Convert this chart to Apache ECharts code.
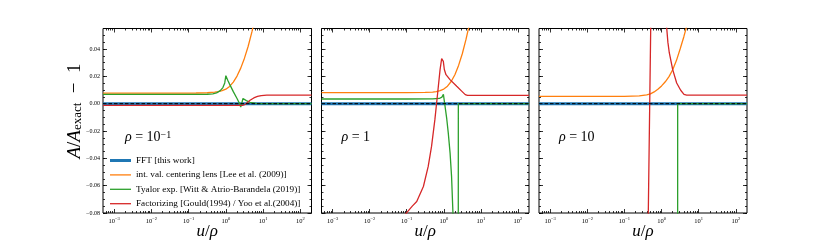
<!DOCTYPE html>
<html><head><meta charset="utf-8">
<script src="https://cdn.jsdelivr.net/npm/echarts@6/dist/echarts.min.js"></script>
<style>html,body{margin:0;padding:0;background:#fff}#c{width:830px;height:244px}</style>
</head><body><div id="c"></div>
<script>
// ---- axis ranges / ticks ----
const X_MIN = 5e-4, X_MAX = 200;          // u/rho range (log axis, drawn in log10 units)
const Y_MIN = -0.08, Y_MAX = 0.055;
const xTickExponents = [-3, -2, -1, 0, 1, 2];
const yMajorTicks = [-0.08, -0.06, -0.04, -0.02, 0, 0.02, 0.04];
const yTickLabels = ['−0.08', '−0.06', '−0.04', '−0.02', '0.00', '0.02', '0.04'];
const panelRho = [['10', '−1'], ['1', ''], ['10', '']];
const seriesNames = [
  'FFT [this work]',
  'int. val. centering lens [Lee et al. (2009)]',
  'Tyalor exp. [Witt & Atrio-Barandela (2019)]',
  'Factorizing [Gould(1994) / Yoo et al.(2004)]'
];
const colors = ['#1f77b4', '#ff7f0e', '#2ca02c', '#d62728'];

// ---- data: [log10(u/rho), A/A_exact - 1] ----
const fft = [[-3.301, 0], [2.301, 0]];
const zeroRef = [[-3.301, 0], [2.301, 0]];

const p1Orange = [[-3.301,0.0077],[-1.5,0.0077],[-0.8,0.0078],[-0.5,0.008],[-0.3,0.0084],[-0.2,0.0088],[-0.1,0.0095],[0,0.0106],[0.1,0.0126],[0.2,0.0158],[0.3,0.0202],[0.4,0.026],[0.5,0.0333],[0.6,0.042],[0.7,0.0525],[0.8,0.065],[0.9,0.08]];
const p1Green = [[-3.301,0.0068],[-1,0.0068],[-0.5,0.0069],[-0.35,0.0072],[-0.25,0.0079],[-0.15,0.0095],[-0.08,0.0118],[-0.03,0.0152],[0,0.0205],[0.05,0.0172],[0.1,0.0143],[0.2,0.0088],[0.3,0.0038],[0.36,0.0005],[0.40,-0.0025],[0.46,0.0038],[0.55,0.0022],[0.65,0.001],[0.8,0.0002],[1.0,0],[2.301,0]];
const p1Red = [[-3.301,-0.0013],[0,-0.0013],[0.45,-0.0013],[0.52,-0.0006],[0.58,0.0008],[0.65,0.0025],[0.75,0.0042],[0.85,0.0053],[0.95,0.0059],[1.1,0.0062],[1.3,0.0063],[2.301,0.0063]];

const p2Orange = [[-3.301,0.0081],[-1,0.0081],[-0.5,0.0082],[-0.3,0.0084],[-0.2,0.0088],[-0.1,0.0095],[0,0.0107],[0.1,0.0128],[0.2,0.0162],[0.3,0.0212],[0.4,0.028],[0.5,0.0365],[0.6,0.047],[0.7,0.059],[0.8,0.073]];
const p2Green = [[-3.301,0.0034],[-1,0.0034],[-0.3,0.0035],[-0.12,0.0038],[-0.05,0.0048],[-0.01,0.0068],[0.01,0.0062],[0.035,-0.002],[0.08,-0.011],[0.12,-0.021],[0.17,-0.036],[0.21,-0.053],[0.245,-0.078],[0.3,-0.12],[0.39,-0.2],[0.393,0],[2.301,0]];
const p2Red = [[-3.301,-0.3],[-1.5,-0.1],[-1.2,-0.087],[-1.0,-0.0797],[-0.85,-0.075],[-0.73,-0.0716],[-0.55,-0.0606],[-0.42,-0.0459],[-0.33,-0.0313],[-0.24,-0.0117],[-0.165,0.0078],[-0.1,0.0249],[-0.057,0.033],[-0.03,0.0325],[-0.012,0.031],[0.015,0.025],[0.06,0.0212],[0.168,0.0176],[0.35,0.0127],[0.49,0.009],[0.58,0.0066],[0.64,0.006],[0.8,0.006],[2.301,0.006]];

const p3Orange = [[-3.301,0.0054],[-1,0.0054],[-0.6,0.0057],[-0.4,0.0065],[-0.3,0.0072],[-0.2,0.0086],[-0.1,0.0105],[0,0.013],[0.1,0.016],[0.2,0.0198],[0.3,0.0248],[0.4,0.0315],[0.5,0.04],[0.6,0.049],[0.7,0.059],[0.8,0.071]];
const p3Green = [[-3.301,-0.5],[0.43,-0.5],[0.434,0],[2.301,0]];
const p3Red = [[-3.301,-0.6],[-0.36,-0.085],[-0.29,0.06],[-0.1,0.6],[0.12,0.06],[0.138,0.0555],[0.17,0.045],[0.209,0.0371],[0.3,0.0249],[0.407,0.0151],[0.515,0.0098],[0.604,0.0068],[0.677,0.0063],[2.301,0.0063]];

const panels = [
  [fft, p1Orange, p1Green, p1Red],
  [fft, p2Orange, p2Green, p2Red],
  [fft, p3Orange, p3Green, p3Red]
];

// ---- layout ----
const FONT = "'Liberation Serif','Times New Roman',serif";
const gridBoxes = [
  {left: 103, width: 208.5},
  {left: 321.5, width: 207.5},
  {left: 539, width: 208}
];
const TOP = 28.5, HEIGHT = 184.5;
const lineWidths = [3, 1.3, 1.3, 1.3];

const XL0 = Math.log10(X_MIN), XL1 = Math.log10(X_MAX);
const minorX = [];
for (let k = -4; k <= 2; k++) for (let m = 2; m <= 9; m++) {
  const v = Math.log10(m) + k; if (v > XL0 && v < XL1) minorX.push(v);
}
const minorY = [];
for (let i = 0; i <= 27; i++) minorY.push(+(Y_MIN + i * 0.005).toFixed(3));

const tickLine = {color: '#000', width: 0.8};
function xAx(g, pos, ticks, len, labels) {
  return {
    type: 'value', gridIndex: g, position: pos, min: XL0, max: XL1,
    axisLine: {show: false, onZero: false}, splitLine: {show: false},
    axisTick: {show: true, inside: true, length: len, customValues: ticks, lineStyle: tickLine},
    axisLabel: labels ? {
      show: true, customValues: xTickExponents, margin: 3,
      formatter: v => { const k = Math.round(v); return '{b|10}{s|' + (k < 0 ? '−' + (-k) : k) + '}'; },
      rich: {
        b: {fontFamily: FONT, fontSize: 6.5, color: '#000', verticalAlign: 'bottom', lineHeight: 9},
        s: {fontFamily: FONT, fontSize: 4.5, color: '#000', verticalAlign: 'top', lineHeight: 9}
      }
    } : {show: false}
  };
}
function yAx(g, pos, ticks, len, labels) {
  return {
    type: 'value', gridIndex: g, position: pos, min: Y_MIN, max: Y_MAX,
    axisLine: {show: false, onZero: false}, splitLine: {show: false},
    axisTick: {show: true, inside: true, length: len, customValues: ticks, lineStyle: tickLine},
    axisLabel: labels ? {
      show: true, customValues: yMajorTicks, margin: 3,
      fontFamily: FONT, fontSize: 6, color: '#000',
      formatter: v => { const i = yMajorTicks.findIndex(t => Math.abs(t - v) < 1e-9); return i >= 0 ? yTickLabels[i] : ''; }
    } : {show: false}
  };
}

const grid = [], xAxis = [], yAxis = [], series = [], graphic = [];
gridBoxes.forEach((b, g) => {
  grid.push({left: b.left, top: TOP, width: b.width, height: HEIGHT, show: true,
    borderColor: '#000', borderWidth: 1, backgroundColor: 'transparent'});
  xAxis.push(xAx(g, 'bottom', xTickExponents, 4, true));
  xAxis.push(xAx(g, 'bottom', minorX, 2, false));
  xAxis.push(xAx(g, 'top', xTickExponents, 4, false));
  xAxis.push(xAx(g, 'top', minorX, 2, false));
  yAxis.push(yAx(g, 'left', yMajorTicks, 4, g === 0));
  yAxis.push(yAx(g, 'left', minorY, 2, false));
  yAxis.push(yAx(g, 'right', yMajorTicks, 4, false));
  yAxis.push(yAx(g, 'right', minorY, 2, false));

  panels[g].forEach((data, s) => {
    series.push({
      type: 'line', name: seriesNames[s], xAxisIndex: g * 4, yAxisIndex: g * 4,
      data: data, symbol: 'none', showSymbol: false, silent: true, clip: true, z: 2 + s,
      lineStyle: {color: colors[s], width: lineWidths[s]},
      itemStyle: {color: colors[s]}
    });
  });
  series.push({
    type: 'line', name: 'exact', xAxisIndex: g * 4, yAxisIndex: g * 4,
    data: zeroRef, symbol: 'none', silent: true, z: 10,
    lineStyle: {color: '#000', width: 1, type: [3.5, 2]}
  });

  const cx = b.left + b.width / 2;
  graphic.push({
    type: 'text', x: cx, y: 232, z: 20,
    style: {text: '{i|u}/{i|ρ}', align: 'center', verticalAlign: 'middle',
      fontFamily: FONT, fontSize: 17, fill: '#000',
      rich: {i: {fontFamily: FONT, fontSize: 17, fontStyle: 'italic', fill: '#000'}}}
  });
  const r = panelRho[g];
  graphic.push({
    type: 'text', x: b.left + (g === 0 ? 22 : 20), y: 137, z: 20,
    style: {text: '{i|ρ} = ' + r[0] + (r[1] ? '{s|' + r[1] + '}' : ''), align: 'left', verticalAlign: 'middle',
      fontFamily: FONT, fontSize: 14, fill: '#000',
      rich: {
        i: {fontFamily: FONT, fontSize: 14, fontStyle: 'italic', fill: '#000'},
        s: {fontFamily: FONT, fontSize: 10, fill: '#000', verticalAlign: 'top'}
      }}
  });
});

graphic.push({
  type: 'text', x: 75, y: 111, rotation: Math.PI / 2, z: 20,
  style: {text: '{i|A}/{i|A}{sub|exact}  −  1', align: 'center', verticalAlign: 'middle',
    fontFamily: FONT, fontSize: 19, fill: '#000',
    rich: {
      i: {fontFamily: FONT, fontSize: 19, fontStyle: 'italic', fill: '#000'},
      sub: {fontFamily: FONT, fontSize: 13, fill: '#000', verticalAlign: 'bottom'}
    }}
});

const legendData = seriesNames.map((n, i) => ({
  name: n,
  icon: 'path://M0,0h21v' + lineWidths[i] + 'h-21z',
  itemStyle: {color: colors[i]}
}));

const chart = echarts.init(document.getElementById('c'), null, {renderer: 'canvas'});
chart.setOption({
  animation: false,
  backgroundColor: '#fff',
  grid, xAxis, yAxis, series, graphic,
  legend: {
    data: legendData, orient: 'vertical', left: 110, top: 156, padding: 0,
    itemWidth: 21, itemHeight: 8, itemGap: 5.4, selectedMode: false,
    symbolKeepAspect: true,
    textStyle: {fontFamily: FONT, fontSize: 9.2, color: '#000'}
  }
});
</script>
</body></html>
